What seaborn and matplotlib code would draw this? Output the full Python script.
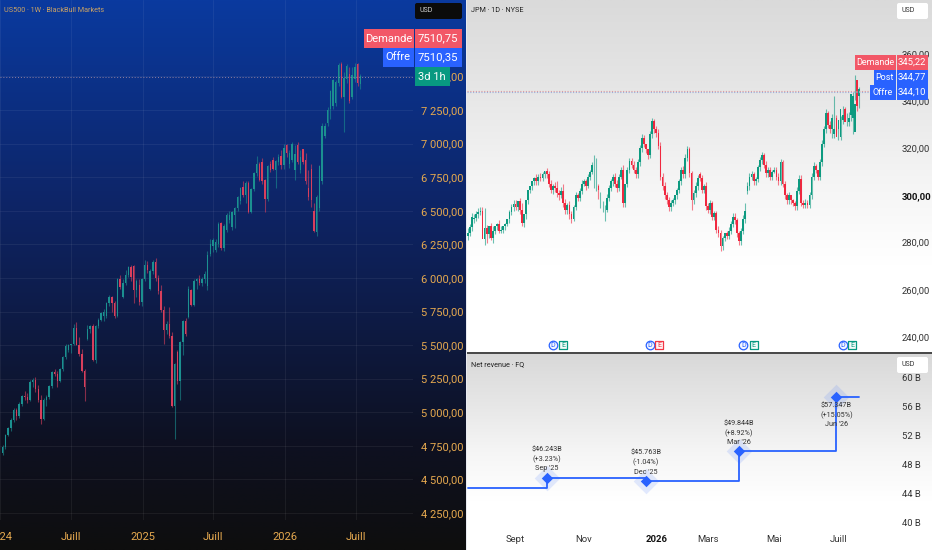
# US500 weekly / JPM daily + net revenue panels
import numpy as np
import pandas as pd
import matplotlib
matplotlib.use("Agg")
import matplotlib.pyplot as plt
import matplotlib.dates as mdates
from matplotlib.colors import LinearSegmentedColormap
from matplotlib.patches import FancyBboxPatch, Rectangle
from matplotlib.transforms import Bbox, blended_transform_factory
import seaborn as sns

# US500 weekly candles
us_open = [4700,4745,4830,4880,4945,5020,4970,5065,5120,5110,5095,5225,5240,5170,5095,4950,5095,5110,5195,5300,
           5285,5235,5320,5410,5465,5500,5510,5625,5500,5435,5310,5545,5620,5645,5390,5640,5690,5720,5720,5810,
           5860,5810,5720,5990,5860,5960,6020,6080,6090,5910,5950,5820,5990,6100,5920,6050,6115,6000,5900,5760,
           5610,5660,5570,5050,5450,5230,5520,5680,5710,5910,5800,5980,5990,5960,5990,5940,6180,6240,6210,6250,
           6410,6220,6360,6430,6380,6470,6520,6570,6680,6620,6710,6490,6660,6780,6850,6860,6730,6590,6850,6880,
           6800,6860,6910,6840,6990,6850,6880,6800,6990,6800,6960,6880,6670,6810,6500,6340,6520,6720,7060,7150,
           7260,7280,7300,7450,7590,7350,7480,7520,7350,7480,7590,7440]
us_high = [4760,4840,4890,4960,5030,5030,5075,5130,5160,5140,5240,5255,5265,5200,5130,5105,5125,5205,5310,5320,
           5310,5330,5420,5505,5505,5510,5660,5670,5560,5470,5325,5650,5650,5660,5650,5700,5750,5770,5820,5870,
           5865,5830,6000,6025,5990,6060,6090,6100,6100,5990,5990,6000,6130,6125,6070,6130,6150,6020,5950,5790,
           5680,5780,5600,5370,5460,5530,5690,5700,5940,5920,5990,6000,6020,6010,6050,6200,6290,6300,6290,6420,
           6420,6400,6480,6500,6500,6530,6610,6680,6720,6720,6720,6670,6790,6910,6860,6890,6740,6840,6870,6900,
           6880,6920,6950,7000,7000,6950,7015,6990,7010,6950,6960,6930,6800,6850,6560,6620,6840,7150,7150,7270,
           7400,7480,7470,7600,7610,7530,7590,7570,7570,7600,7600,7520]
us_low = [4680,4730,4820,4860,4930,4940,4960,5050,5090,5070,5085,5190,5150,5080,4910,4940,5050,5100,5180,5270,
          5190,5225,5310,5400,5450,5440,5500,5500,5420,5300,5085,5540,5590,5380,5370,5630,5680,5680,5700,5790,
          5750,5700,5710,5920,5850,5950,6010,5980,5810,5860,5800,5790,5980,6040,5910,6030,5980,5880,5750,5510,
          5580,5550,5040,4800,5210,5090,5430,5570,5700,5790,5790,5920,5950,5940,5960,5910,6160,6190,6190,6230,
          6210,6200,6340,6410,6360,6370,6500,6550,6600,6560,6480,6480,6650,6760,6720,6700,6490,6570,6790,6800,
          6670,6840,6810,6810,6900,6820,6860,6730,6850,6780,6850,6700,6580,6530,6340,6310,6500,6700,7040,7130,
          7180,7260,7280,7430,7340,7090,7450,7300,7330,7460,7430,7410]
us_close = [4745,4830,4880,4945,5020,4970,5065,5120,5110,5095,5225,5240,5170,5095,4950,5095,5110,5195,5300,5285,
            5235,5320,5410,5490,5500,5505,5625,5500,5435,5310,5190,5620,5640,5390,5640,5690,5740,5750,5810,5860,
            5810,5720,5990,5930,5960,6020,6080,6010,5910,5975,5820,5990,6100,6060,6050,6115,6000,5900,5760,5610,
            5660,5570,5050,5360,5230,5520,5680,5580,5920,5800,5980,5990,5960,5990,6030,6170,6250,6280,6270,6400,
            6220,6390,6470,6470,6490,6520,6600,6670,6620,6710,6490,6660,6780,6850,6730,6720,6590,6830,6800,6810,
            6870,6900,6840,6970,6930,6930,7000,6920,6860,6900,6860,6720,6600,6580,6350,6600,6830,7130,7130,7250,
            7390,7470,7460,7585,7350,7490,7580,7320,7510,7570,7450,7505]
us_ticks = [4250,4500,4750,5000,5250,5500,5750,6000,6250,6500,6750,7000,7250,7500]
us_tick_labels = ["4 250,00","4 500,00","4 750,00","5 000,00","5 250,00","5 500,00","5 750,00","6 000,00",
                  "6 250,00","6 500,00","6 750,00","7 000,00","7 250,00","7 500,00"]
us_months = ["2024-01-01","2024-07-01","2025-01-01","2025-07-01","2026-01-01","2026-07-01"]
us_month_labels = ["2024","Juill","2025","Juill","2026","Juill"]
us_last = 7496

# JPM daily candles
jpm_open = [283,284,286.5,290,290.5,292,293,293.5,281.5,286,283.5,287,282,285,287,288,285,285.5,287,288,
            290,293,295,296.5,295,297.5,294,288.5,292,298,302.5,304,306,307.5,306,308,307.5,309,310.5,309,
            305,302.5,304,303,301,300,302,297,294,296,292,290,295,300,299,302,305,306,304,308,
            310,315,304.5,304,300,296,294,294,299,303,306,308,305,303,308,311,297,305,311,314.5,
            313,311,309,314,320,324.5,322,319.5,317,326,331.5,328,326.5,321,308,304,300,298,295,297,
            298,300,302.5,306,311,309,316,319.5,309.5,298,301,304,309,307.5,302.5,304,295.5,294,297,291,
            292.5,285.5,284,278.5,282,284,283,285,288,291,289.5,284,280.5,285,290,302,304,308,309,306,
            307,312,315,317,313,309.5,311,308,310,311,308,306,314,305,300,298,300,298,297,295.5,
            302,307,297,296,297,296,300,308,312.5,311,308,314,322,328,335,330,328,326,333,328,
            325,332,336.5,334,331,334,333,327,349,342]
jpm_high = [286,288,292.5,292,293.5,294.5,295,295,294.5,287.5,286.5,288.5,287,286.5,288.5,289.5,287,287,288.5,290,
            294,296.5,298,298,297,299,297,292,293,299.5,304,305.5,308,309,309,309.5,310,310.5,311.5,310.5,
            306.5,305,305.5,306,302.5,303.5,305,298.5,297,297.5,293.5,296,301.5,301,303,306.5,307,307,309,311,
            314,317,316,305,301.5,297.5,296,300.5,304.5,307,309,309.5,306.5,309,312,313,305,312,316,316,
            314.5,312,315.5,321.5,326,325.5,321,318.5,327.5,333,332.5,329.5,328,322.5,309.5,305.5,301.5,299.5,298,299,
            300,303,307,312,312.5,317.5,321,320.5,310.5,302.5,305.5,308.5,310,308.5,305,305.5,297,298,297.5,293.5,
            293.5,287,285.5,283,284,285,286.5,289,292.5,292.5,290.5,285,286,291.5,297,305.5,309.5,310.5,310,308,
            313,316.5,318.5,318,314.5,312,312,311,312,312,309.5,315.5,315,306,301,301.5,299.5,298.5,297.5,303.5,
            308.5,308.5,298,298.5,298,301.5,309.5,314,313.5,311,315.5,323.5,329.5,336.5,336,331.5,334.5,342,334,329.5,
            333.5,338,337.5,335,335.5,335,344,351,343.5,346]
jpm_low = [281,283,285,288.5,289,290.5,291.5,292,279,280,282,281,280,283.5,285.5,284,284,284,285.5,287,
           288.5,291.5,293.5,294,293.5,292,287,286.5,290,296.5,301,302.5,304.5,304.5,304.5,306,306,307.5,307.5,303.5,
           301,300.5,301.5,299.5,298,299,295,292,292,290,288.5,289,294,297.5,297.5,300.5,304,302.5,303,306.5,
           309,303,302,298.5,294.5,293,289,293,297.5,302,304,303.5,301.5,302,307,295,295,303.5,309.5,311.5,
           309.5,307.5,307.5,312.5,318.5,320.5,318,315.5,316,324.5,326.5,325,319.5,306.5,302.5,298.5,296.5,293.5,293.5,295.5,
           296.5,298.5,301,304.5,307.5,307.5,314.5,308,294,296.5,299.5,302.5,306,301,301,294,292.5,292,289.5,289.5,
           284,282.5,276.5,277,280.5,281.5,281.5,283.5,286.5,288,282.5,279,279,283.5,288.5,300.5,302.5,306.5,304.5,304.5,
           305.5,310.5,313.5,311.5,308,308,306.5,306.5,309.5,306.5,304.5,304.5,303.5,298.5,296.5,296.5,296.5,295.5,294,294,
           300.5,295.5,294.5,294.5,294.5,294.5,298.5,306.5,309.5,306.5,306.5,312.5,320.5,326.5,328.5,326.5,324.5,324.5,326.5,323.5,
           323.5,330.5,332.5,329.5,329.5,331.5,326,340.5,336,337]
jpm_close = [284,286.5,291,290.5,292,293,293.5,281.5,286,283.5,287,282,285,287,288,285,285.5,287,288,290,
             293,295,296.5,295,297.5,294,288.5,292,298,302.5,304,306,307.5,306,308,307.5,309,310.5,309,305,
             302.5,304,303,301,300,302,297,294,296,292,290,295,300,299,302,305,306,304,308,310,
             313,315,304.5,302.5,300,296,294,299,303,306,308,305,303,308,311,297,305,311,314.5,313,
             311,309,314,320,324.5,322,319.5,317,326,331.5,328,326.5,321,308,304,300,298,295,297,298,
             300,302.5,306,311,309,316,319.5,309.5,298,301,304,307.5,307.5,302.5,304,295.5,294,297,291,292.5,
             285.5,284,278.5,282,284,283,285,288,291,289.5,284,280.5,285,290,293.5,304,308,309,306,307,
             312,315,317,313,309.5,311,308,310,311,308,306,314,305,300,298,300,298,297,295.5,302,
             307,297,296,297,296,300,308,312.5,311,308,314,322,328,335,330,328,333,328,325,332,
             336.5,334,331,334,333,343,342,339,338,345]
jpm_ticks = [240,260,280,300,320,340,360]
jpm_tick_labels = ["240,00","260,00","280,00","300,00","320,00","340,00","360,00"]
jpm_last = [344.4,343.9]
jpm_dividend_bars = [41,88,133,181]
jpm_earnings_bars = [46,92.5,138,185.5]
jpm_earnings_colors = ["#089981","#f23645","#089981","#089981"]

# net revenue, quarterly
rev_bars = [0,38,86,131,178,189]
rev_values = [44.79,46.243,45.763,49.844,57.347,57.347]
rev_point_bars = [38,86,131,178]
rev_point_values = [46.243,45.763,49.844,57.347]
rev_notes = ["$46.243B\n(+3.23%)\nSep '25","$45.763B\n(-1.04%)\nDec '25","$49.844B\n(+8.92%)\nMar '26","$57.347B\n(+15.05%)\nJun '26"]
rev_ticks = [40,44,48,52,56,60]
rev_tick_labels = ["40 B","44 B","48 B","52 B","56 B","60 B"]
month_bars = [23,56,91,116,148,179]
month_labels = ["Sept","Nov","2026","Mars","Mai","Juill"]

W, H = 932, 550
sns.set_theme(style="dark")
plt.rcParams["font.family"] = ["Roboto", "DejaVu Sans"]
plt.rcParams["axes.unicode_minus"] = False
fig = plt.figure(figsize=(W / 100, H / 100), dpi=100, facecolor="#e8eaf0")


def px_axes(x0, y0, x1, y1, **kw):
    return fig.add_axes([x0 / W, 1 - y1 / H, (x1 - x0) / W, (y1 - y0) / H], **kw)


def backdrop(box, stops):
    a = px_axes(*box, zorder=-2)
    cmap = LinearSegmentedColormap.from_list("bg", stops)
    a.imshow(np.linspace(0, 1, 256).reshape(-1, 1), cmap=cmap, aspect="auto", vmin=0, vmax=1)
    a.set_axis_off()


def candles(ax, x, o, h, l, c, up, down, width, lw):
    df = pd.DataFrame({"x": x, "o": o, "h": h, "l": l, "c": c})
    df["col"] = np.where(df["c"] >= df["o"], up, down)
    ax.vlines(df["x"], df["l"], df["h"], colors=df["col"], lw=lw, alpha=0.6)
    ax.bar(df["x"], (df["c"] - df["o"]).abs().clip(lower=0.01), bottom=df[["o", "c"]].min(axis=1),
           width=width, color=df["col"], lw=0)


def tag(x0, y0, x1, y1, color, text, size=8):
    fig.add_artist(Rectangle((x0 / W, 1 - y1 / H), (x1 - x0) / W, (y1 - y0) / H, transform=fig.transFigure,
                             fc=color, ec="none", zorder=5))
    fig.text((x0 + x1) / 2 / W, 1 - (y0 + y1) / 2 / H, text, color="white", fontsize=size, ha="center", va="center",
             zorder=6)


def usd_box(x0, y0, x1, y1, fc, tc):
    fig.add_artist(FancyBboxPatch((x0, H - y1), x1 - x0, y1 - y0, boxstyle="round,pad=0,rounding_size=2",
                                  transform=None, fc=fc, ec="none", zorder=5))
    fig.text((x0 + 5) / W, 1 - (y0 + y1) / 2 / H, "USD", color=tc, fontsize=5, va="center", zorder=6)


backdrop((0, 0, 466, 550), ["#0a3a9f", "#0c2e80", "#0e2362", "#0d1a42", "#0e1122", "#0e0e0e"])
backdrop((467, 0, 932, 352), ["#dadada", "#e6e6e6", "#f4f4f4", "#ffffff", "#ffffff"])
backdrop((467, 353, 932, 550), ["#d8d8d8", "#e6e6e6", "#f5f5f5", "#ffffff", "#ffffff"])
fig.add_artist(Rectangle((467 / W, 1 - 353.5 / H), 465 / W, 1.4 / H, transform=fig.transFigure, fc="#4a4a4a", ec="none"))

# left panel
orange = "#e6a94f"
ax = px_axes(0, 0, 413, 520, facecolor="none")
weeks = pd.date_range("2024-01-08", periods=len(us_close), freq="7D")
candles(ax, mdates.date2num(weeks), us_open, us_high, us_low, us_close, "#1b9090", "#d83f5c", 3.6, 0.8)
ax.axhline(us_last, color="#c9a0a8", lw=0.7, ls=(0, (1, 2)), alpha=0.7)
ax.set_xlim(mdates.date2num(pd.Timestamp("2024-01-01")), mdates.date2num(pd.Timestamp("2026-11-25")))
ax.set_ylim(4198, 8069)
ax.set_yticks(us_ticks, us_tick_labels)
ax.set_xticks(mdates.date2num(pd.to_datetime(us_months)), us_month_labels)
ax.yaxis.tick_right()
ax.tick_params(axis="y", length=0, pad=6, labelsize=8, labelcolor=orange)
ax.tick_params(axis="x", length=0, pad=9, labelsize=8, labelcolor=orange)
ax.grid(True, color="white", alpha=0.06, lw=0.7)
ax.set_axisbelow(True)
sns.despine(ax=ax, left=True, bottom=True)
fig.text(4 / W, 1 - 11 / H, "US500 · 1W · BlackBull Markets", color="#c9a266", fontsize=5.2, va="center")

# JPM panel
ax2 = px_axes(467, 0, 895, 352, facecolor="none")
bars = np.arange(len(jpm_close))
candles(ax2, bars, jpm_open, jpm_high, jpm_low, jpm_close, "#0d9a80", "#f0283f", 0.85, 0.8)
ax2.axhline(jpm_last[0], color="#e39a9a", lw=0.8, ls=(0, (1, 1.5)))
ax2.axhline(jpm_last[1], color="#9aaedc", lw=0.8, ls=(0, (1, 1.5)))
ax2.set_xlim(-0.48, 206.3)
ax2.set_ylim(233.6, 382.9)
ax2.set_yticks(jpm_ticks, jpm_tick_labels)
ax2.set_xticks([])
ax2.yaxis.tick_right()
ax2.tick_params(axis="y", length=0, pad=5, labelsize=6.8, labelcolor="#333333")
for t in ax2.get_yticklabels():
    if t.get_text() == "300,00":
        t.set_fontweight("bold")
        t.set_color("#111111")
sns.despine(ax=ax2, left=True, bottom=True)
fig.text(471 / W, 1 - 11 / H, "JPM · 1D · NYSE", color="#222222", fontsize=5.2, va="center")

# dividend / earnings markers along the bottom of the JPM panel
mark_tr = blended_transform_factory(ax2.transData, ax2.transAxes)
for d, e, col in zip(jpm_dividend_bars, jpm_earnings_bars, jpm_earnings_colors):
    ax2.scatter([d], [0.02], s=38, marker="o", fc="#f4f6ff", ec="#2962ff", lw=0.9, transform=mark_tr, clip_on=False, zorder=4)
    ax2.scatter([e], [0.02], s=30, marker="s", fc="#f4fbf8" if col == "#089981" else "#fff4f4", ec=col, lw=0.9,
                transform=mark_tr, clip_on=False, zorder=4)
    ax2.text(d, 0.019, "D", color="#2962ff", fontsize=5, ha="center", va="center", transform=mark_tr, zorder=5)
    ax2.text(e, 0.019, "E", color=col, fontsize=5, ha="center", va="center", transform=mark_tr, zorder=5)

# revenue panel
ax3 = px_axes(467, 353, 895, 523, facecolor="none")
sns.lineplot(x=rev_bars, y=rev_values, drawstyle="steps-post", color="#2962ff", lw=1.3, ax=ax3, estimator=None, sort=False)
sns.scatterplot(x=rev_point_bars, y=rev_point_values, marker="D", s=170, color="#2962ff", alpha=0.13, lw=0, ax=ax3)
sns.scatterplot(x=rev_point_bars, y=rev_point_values, marker="D", s=34, color="#2962ff", lw=0, ax=ax3)
for i, (b, v, note) in enumerate(zip(rev_point_bars, rev_point_values, rev_notes)):
    below = i == len(rev_notes) - 1
    ax3.annotate(note, (b, v), xytext=(0, -4 if below else 4), textcoords="offset points", ha="center",
                 va="top" if below else "bottom", fontsize=5.2, color="#333333", linespacing=1.4)
ax3.set_xlim(-0.48, 206.3)
ax3.set_ylim(40.24, 63.37)
ax3.set_yticks(rev_ticks, rev_tick_labels)
ax3.set_xticks(month_bars, month_labels)
ax3.yaxis.tick_right()
ax3.tick_params(axis="y", length=0, pad=5, labelsize=6.8, labelcolor="#333333")
ax3.tick_params(axis="x", length=0, pad=9, labelsize=6.8, labelcolor="#333333")
for t in ax3.get_xticklabels():
    if t.get_text() == "2026":
        t.set_fontweight("bold")
        t.set_color("#111111")
for t in ax3.get_yticklabels():
    t.set_clip_on(True)
    t.set_clip_box(Bbox([[0, H - 527], [W, H]]))
sns.despine(ax=ax3, left=True, bottom=True)
fig.text(471 / W, 1 - 365 / H, "Net revenue · FQ", color="#222222", fontsize=5.2, va="center")

# price tags and currency boxes
usd_box(415, 3, 462, 19, "#0b0b0b", "#cfcfcf")
usd_box(897, 3, 928, 19, "#ffffff", "#333333")
usd_box(897, 357, 928, 373, "#ffffff", "#333333")
tag(364, 29, 413.5, 48, "#f25767", "Demande", 8)
tag(414.5, 29, 462, 48, "#f25767", "7510,75", 8.2)
tag(383, 48, 413.5, 67, "#2962ff", "Offre", 8)
tag(414.5, 48, 462, 67, "#2962ff", "7510,35", 8.2)
tag(414.5, 67, 450, 86, "#089981", "3d 1h", 8)
tag(855, 55, 895.5, 70, "#f25767", "Demande", 6.5)
tag(896.5, 55, 928, 70, "#f25767", "345,22", 6.8)
tag(874, 70, 895.5, 85, "#2962ff", "Post", 6.5)
tag(896.5, 70, 928, 85, "#2962ff", "344,77", 6.8)
tag(870, 85, 895.5, 100, "#2962ff", "Offre", 6.5)
tag(896.5, 85, 928, 100, "#2962ff", "344,10", 6.8)

fig.savefig("out.png", dpi=100)
